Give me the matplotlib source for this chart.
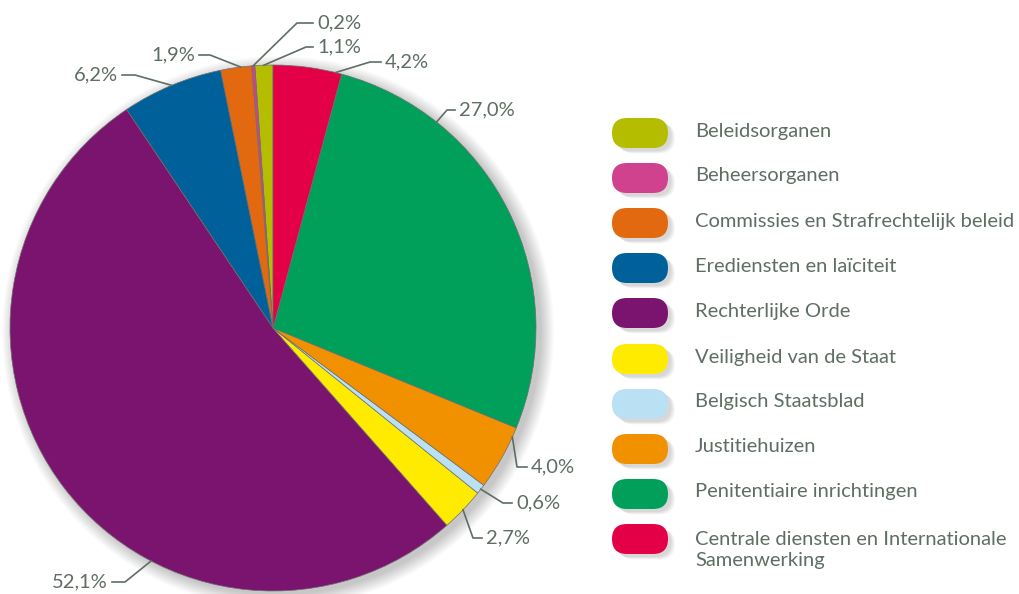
import numpy as np
import matplotlib.pyplot as plt
from matplotlib.patches import FancyBboxPatch, Circle

plt.rcParams['font.family'] = ['Lato', 'DejaVu Sans']

#######################################
# DATA
#######################################
categories = ['Beleidsorganen', 'Beheersorganen', 'Commissies en Strafrechtelijk beleid',
              'Erediensten en laïciteit', 'Rechterlijke Orde', 'Veiligheid van de Staat',
              'Belgisch Staatsblad', 'Justitiehuizen', 'Penitentiaire inrichtingen',
              'Centrale diensten en Internationale\nSamenwerking']
shares = [1.1, 0.2, 1.9, 6.2, 52.1, 2.7, 0.6, 4.0, 27.0, 4.2]  # percent
colors = ['#b5bd00', '#d0428e', '#e2690f', '#00619a', '#7b146f',
          '#ffeb00', '#b9e0f3', '#f29100', '#00a05a', '#e30046']

#######################################
# LAYOUT (image pixels, y down)
#######################################
W, H = 1020, 594
cx, cy, R = 273, 328, 263
txt_col = '#5e6e63'
fs = 14.5
# anchor fraction inside wedge, elbow x, elbow y, end x of the leader line
leaders = [(0.5, 306, 47, 313),
           (0.5, 297, 23, 313),
           (0.35, 210, 55, 199),
           (0.5, 135, 75, 122),
           (0.632, 125, 582, 112),
           (0.5, 473, 538, 482),
           (0.5, 503, 503, 512),
           (0.85, 517, 467, 527),
           (0.76, 447, 110, 455),
           (0.09, 370, 62, 381)]
legend_y = [133, 178, 223, 268, 313, 359, 404, 449, 494, 539]

fig = plt.figure(figsize=(W / 100, H / 100), dpi=100)
ax = fig.add_axes([0, 0, 1, 1])

# soft shadow behind the pie
for i in range(14):
    ax.add_patch(Circle((cx + 5, H - cy - 4), R + i * 1.0, color='k', alpha=0.015, zorder=0, lw=0))

wedges, _ = ax.pie(shares, colors=colors, startangle=90, counterclock=True,
                   center=(cx, H - cy), radius=R,
                   wedgeprops=dict(edgecolor='#6f6f6f', linewidth=0.5))

for w, v, (frac, ex, ey, endx) in zip(wedges, shares, leaders):
    ang = np.deg2rad(w.theta1 + frac * (w.theta2 - w.theta1))
    px, py = cx + R * np.cos(ang), H - cy + R * np.sin(ang)
    ax.plot([px, ex, endx], [py, H - ey, H - ey], color=txt_col, lw=1.2, zorder=3)
    lab = f'{v:.1f}%'.replace('.', ',')
    if endx > ex:
        ax.text(endx + 4, H - ey, lab, ha='left', va='center', fontsize=fs, color=txt_col)
    else:
        ax.text(endx - 4, H - ey, lab, ha='right', va='center', fontsize=fs, color=txt_col)

# legend pills
for name, col, yc in zip(categories, colors, legend_y):
    for k in range(5):
        ax.add_patch(FancyBboxPatch((612 + 3 + k, H - yc - 15 - 3 - k * 0.6), 56, 30,
                                    boxstyle='round,pad=0,rounding_size=15',
                                    fc='k', ec='none', alpha=0.03, zorder=1))
    ax.add_patch(FancyBboxPatch((612, H - yc - 15), 56, 30,
                                boxstyle='round,pad=0,rounding_size=15',
                                fc=col, ec='none', zorder=2))
    ty = yc - 2 if '\n' not in name else yc + 11
    ax.text(695, H - ty, name, ha='left', va='center', fontsize=fs,
            color=txt_col, linespacing=1.25)

ax.set_xlim(0, W)
ax.set_ylim(0, H)
ax.set_aspect('equal')
ax.axis('off')

plt.savefig('out.png', dpi=100)
